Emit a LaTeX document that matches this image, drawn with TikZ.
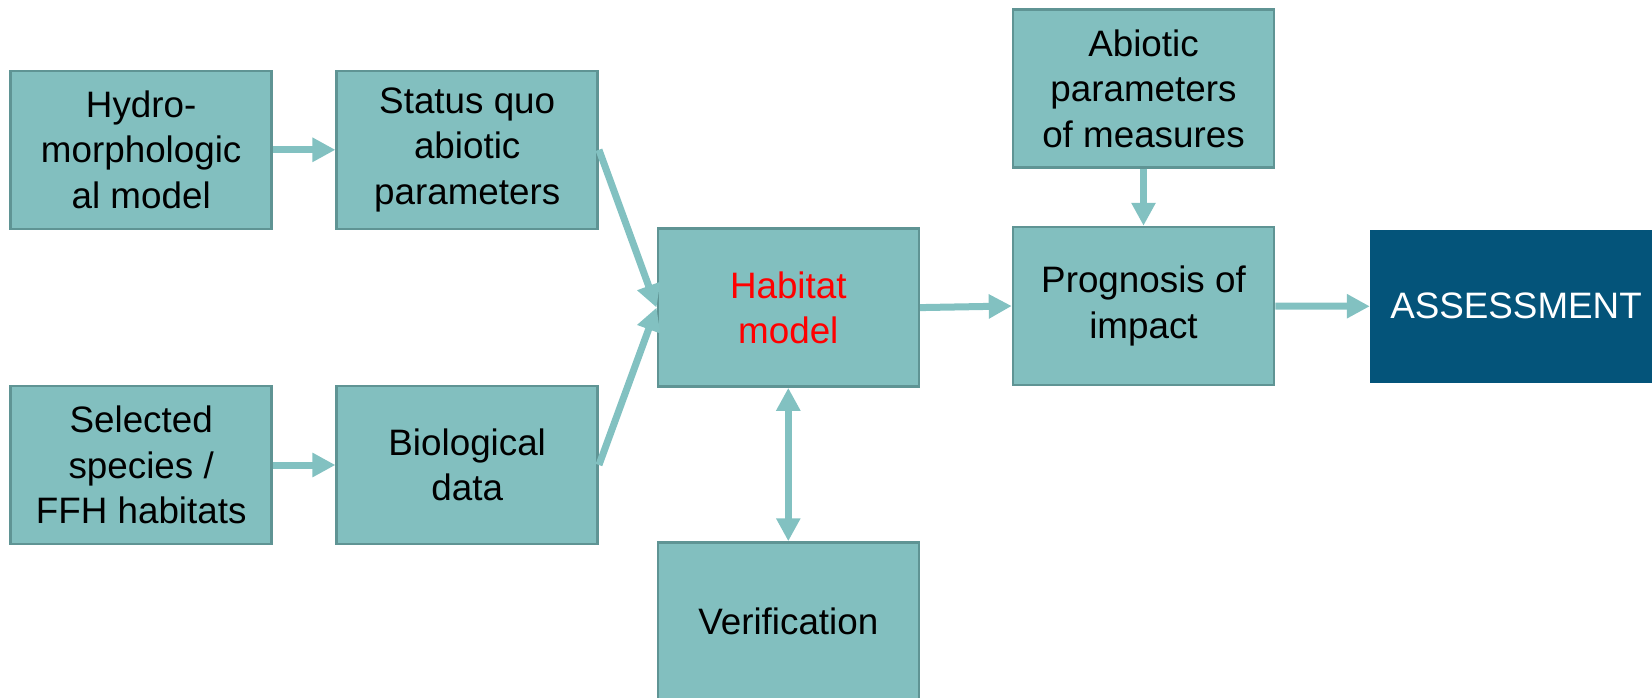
\documentclass[tikz,border=0pt]{standalone}
\usepackage{fontspec}
\setmainfont{Liberation Sans}
\usetikzlibrary{arrows.meta}
\definecolor{boxfill}{HTML}{82BFBF}
\definecolor{boxline}{HTML}{5F9494}
\definecolor{arrowcol}{HTML}{82C1C1}
\definecolor{assessfill}{HTML}{04547A}
\begin{document}
\begin{tikzpicture}[x=1pt,y=-1pt,
  box/.style={rectangle, draw=boxline, line width=2.5pt, fill=boxfill,
    minimum width=261pt, minimum height=158pt, inner sep=0pt, align=center,
    font=\fontsize{36.8}{45.5}\selectfont, text=black},
  assessbox/.style={rectangle, fill=assessfill, minimum width=292pt, minimum height=153pt,
    inner sep=0pt, align=center, font=\fontsize{36.8}{45.5}\selectfont, text=white},
  conn/.style={draw=arrowcol, line width=7pt, -{Triangle[length=23pt,width=23pt]}},
  dconn/.style={draw=arrowcol, line width=7pt, {Triangle[length=23pt,width=23pt]}-{Triangle[length=23pt,width=23pt]}}
]
\useasboundingbox (0,0) rectangle (1652,698);
\node[box] (hydro) at (141.2,149.8) {Hydro-\\morphologic\\al model};
\node[box] (status) at (467.2,149.8) {Status quo\\abiotic\\parameters};
\node[box] (sel) at (141.2,465) {Selected\\species /\\FFH habitats};
\node[box] (bio) at (467.2,465) {Biological\\data};
\node[box, text=red] (habitat) at (788.3,307.6) {Habitat\\model};
\node[box] (verif) at (788.3,621.5) {Verification};
\node[box] (abiotic) at (1143.5,88.5) {Abiotic\\parameters\\of measures};
\node[box] (prog) at (1143.5,306) {Prognosis of\\impact};
\node[assessbox] (assess) at (1516,306.3) {ASSESSMENT};

\draw[conn] (hydro.east) -- (status.west);
\draw[conn] (sel.east) -- (bio.west);
\draw[conn] (status.east) -- (habitat.west);
\draw[conn] (bio.east) -- (habitat.west);
\draw[conn] (habitat.east) -- (prog.west);
\draw[conn] (abiotic.south) -- (prog.north);
\draw[conn] (prog.east) -- (assess.west);
\draw[dconn] (habitat.south) -- (verif.north);
\end{tikzpicture}
\end{document}
